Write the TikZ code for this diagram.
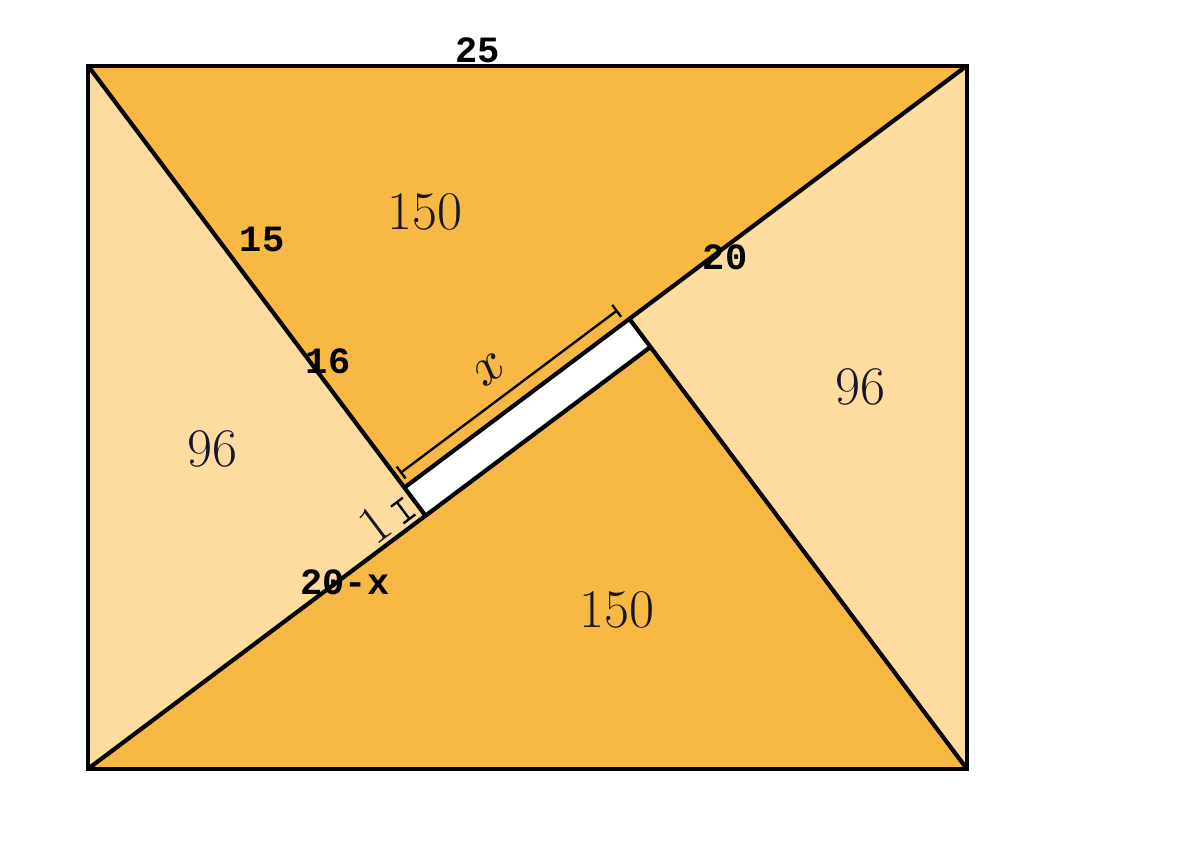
\documentclass[tikz,border=0pt]{standalone}
\usepackage{fontspec}
\usetikzlibrary{arrows.meta}
\newfontfamily\lblfont{Liberation Mono}
\definecolor{darkor}{RGB}{247,185,68}
\definecolor{lightor}{RGB}{254,220,160}
\definecolor{txtc}{RGB}{22,22,40}
\begin{document}
\begin{tikzpicture}[
  edge/.style={line width=3.4pt, line join=miter},
  bigtxt/.style={font=\fontsize{44}{50}\selectfont, text=txtc, inner sep=0pt},
  smalltxt/.style={font=\lblfont\bfseries\fontsize{30}{34}\selectfont, inner sep=0pt},
  dimline/.style={line width=1.9pt, {Bar[width=12pt,line width=1.9pt]}-{Bar[width=12pt,line width=1.9pt]}}
]
\useasboundingbox[fill=white] (-2.503,-2.62) rectangle (31.63,21.87);
% corners
\coordinate (BL) at (0,0);
\coordinate (BR) at (25,0);
\coordinate (TR) at (25,20);
\coordinate (TL) at (0,20);
% strip corners
\coordinate (P) at (9,8);
\coordinate (R) at (9.6,7.2);
\coordinate (Q) at (16,12);
\coordinate (S) at (15.4,12.8);
% fills
\fill[darkor] (TL) -- (TR) -- (P) -- cycle;
\fill[darkor] (BL) -- (BR) -- (Q) -- cycle;
\fill[lightor] (TL) -- (R) -- (BL) -- cycle;
\fill[lightor] (TR) -- (S) -- (BR) -- cycle;
\fill[white] (P) -- (S) -- (Q) -- (R) -- cycle;
% lines
\draw[edge] (TL) -- (R);
\draw[edge] (TR) -- (P);
\draw[edge] (BL) -- (Q);
\draw[edge] (BR) -- (S);
\draw[edge] (BL) rectangle (TR);
% dimension lines
\coordinate (xa) at (8.88,8.41);
\coordinate (xb) at (15.064,13.048);
\draw[dimline] (xa) -- (xb);
\coordinate (oa) at (8.766,7.612);
\coordinate (ob) at (9.162,7.084);
\draw[dimline] (oa) -- (ob);
% labels
\node[smalltxt] (l25) at (11.09,20.45) {25};
\node[smalltxt] (l15) at (4.95,15.05) {15};
\node[smalltxt] (l16) at (6.83,11.58) {16};
\node[smalltxt] (l20) at (18.12,14.56) {20};
\node[smalltxt] (l20x) at (7.31,5.32) {20-x};
\node[bigtxt] (a1) at (9.58,15.84) {150};
\node[bigtxt] (a2) at (15.05,4.52) {150};
\node[bigtxt] (a3) at (3.53,9.10) {96};
\node[bigtxt] (a4) at (21.96,10.86) {96};
\node[text=txtc, inner sep=0pt, rotate=36.87] (lx) at (11.43,11.35) {\scalebox{4.4}{$x$}};
\node[bigtxt, rotate=36.87] (l1) at (8.16,6.94) {1};
\end{tikzpicture}
\end{document}
